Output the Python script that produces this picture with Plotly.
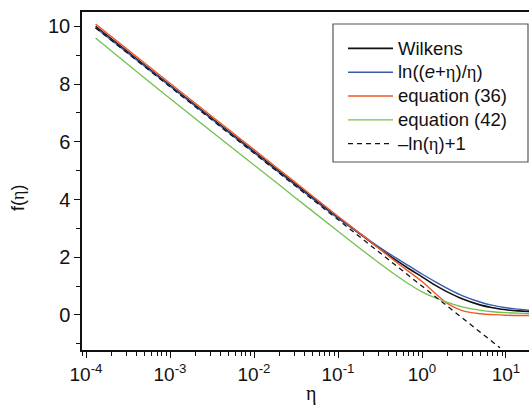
import plotly.graph_objects as go

# ---- data ----
eta = [1.3e-4, 1e-3, 1e-2, 0.03, 0.1, 0.2, 0.3, 0.5, 0.7, 1.0, 1.5, 2.0, 3.0, 5.0, 7.0, 10.0, 14.0, 19.0]
wilkens = [10.00, 7.96, 5.66, 4.57, 3.37, 2.72, 2.34, 1.88, 1.60, 1.32, 1.00, 0.80, 0.56, 0.34, 0.25, 0.18, 0.14, 0.12]
ln_ratio = [9.96, 7.93, 5.63, 4.53, 3.35, 2.74, 2.38, 1.96, 1.70, 1.42, 1.12, 0.92, 0.67, 0.44, 0.33, 0.25, 0.20, 0.16]
eq36 = [10.08, 8.03, 5.73, 4.63, 3.42, 2.74, 2.33, 1.82, 1.50, 1.16, 0.70, 0.40, 0.15, 0.04, 0.01, -0.01, -0.02, -0.02]
eq42 = [9.60, 7.50, 5.20, 4.10, 2.90, 2.22, 1.83, 1.36, 1.07, 0.80, 0.57, 0.44, 0.28, 0.16, 0.11, 0.08, 0.06, 0.05]
eta_asym = [1.3e-4, 1e-2, 1.0, 8.5]
asym = [9.95, 5.61, 1.00, -1.14]

x_tickvals = [1e-4, 1e-3, 1e-2, 1e-1, 1e0, 1e1]
x_ticktext = ["10<sup>-4</sup>", "10<sup>-3</sup>", "10<sup>-2</sup>", "10<sup>-1</sup>", "10<sup>0</sup>", "10<sup>1</sup>"]
y_tickvals = [0, 2, 4, 6, 8, 10]

ETA = '<span style="font-family:Liberation Serif">η</span>'

def leg(t):
    return '<span style="font-size:18.5px">' + t + '</span>'

fig = go.Figure()
fig.add_trace(go.Scatter(x=eta, y=wilkens, mode="lines", name=leg("Wilkens"),
                         line=dict(color="#111111", width=1.6, shape="spline")))
fig.add_trace(go.Scatter(x=eta, y=ln_ratio, mode="lines", name=leg("ln((<i>e</i>+" + ETA + ")/" + ETA + ")"),
                         line=dict(color="#3a5bb0", width=1.4, shape="spline")))
fig.add_trace(go.Scatter(x=eta, y=eq36, mode="lines", name=leg("equation (36)"),
                         line=dict(color="#ee5a2c", width=1.4, shape="spline")))
fig.add_trace(go.Scatter(x=eta, y=eq42, mode="lines", name=leg("equation (42)"),
                         line=dict(color="#72c150", width=1.3, shape="spline")))
fig.add_trace(go.Scatter(x=eta_asym, y=asym, mode="lines", name=leg("–ln(" + ETA + ")+1"),
                         line=dict(color="#111111", width=1.3, dash="5px,4px")))

# plot area in pixels: x 82..529, y 12..350
L, R, T, B = 82, 529, 12, 350
W, H = 529, 405
def px(x):
    return (x - L) / (R - L)
def py(y):
    return (B - y) / (B - T)

minor_x = [m * 10.0 ** e for e in range(-5, 3) for m in range(2, 10)]

fig.update_layout(
    width=W, height=H,
    margin=dict(l=L, r=W - R, t=T, b=H - B, pad=0),
    paper_bgcolor="white", plot_bgcolor="white",
    font=dict(family="Liberation Sans, Arial, sans-serif", size=18, color="#111111"),
    showlegend=True,
    legend=dict(x=px(343), y=py(31.5), xanchor="left", yanchor="top",
                bgcolor="rgba(255,255,255,0)", borderwidth=0,
                font=dict(size=16, color="#111111"), itemwidth=45),
    xaxis=dict(type="log", range=[-4.048, 1.274], showgrid=False, zeroline=False,
               showline=True, linecolor="#111111", linewidth=1.5, mirror=True,
               ticks="outside", ticklen=6, tickwidth=1.3, tickcolor="#111111",
               tickvals=x_tickvals, ticktext=x_ticktext,
               tickfont=dict(size=19),
               minor=dict(ticks="outside", ticklen=4, tickwidth=1.2, tickcolor="#111111",
                          tickvals=minor_x, showgrid=False)),
    yaxis=dict(range=[-1.215, 10.5], showgrid=False, zeroline=False,
               showline=True, linecolor="#111111", linewidth=1.5,
               ticks="outside", ticklen=6, tickwidth=1.3, tickcolor="#111111",
               tickvals=y_tickvals, tickfont=dict(size=20),
               minor=dict(ticks="outside", ticklen=4, tickwidth=1.2, tickcolor="#111111",
                          dtick=1, showgrid=False)),
    shapes=[dict(type="rect", xref="paper", yref="paper",
                 x0=px(333), x1=px(528), y0=py(162), y1=py(24),
                 line=dict(color="#555555", width=1.2), fillcolor="white", layer="below")],
    annotations=[
        dict(text="f(" + ETA + ")", xref="paper", yref="paper", x=px(18), y=py(198),
             showarrow=False, textangle=-90, font=dict(size=18), xanchor="center", yanchor="middle"),
        dict(text=ETA, xref="paper", yref="paper", x=px(311), y=py(393),
             showarrow=False, font=dict(size=20), xanchor="center", yanchor="middle"),
    ],
)

fig.write_html("out.html")
